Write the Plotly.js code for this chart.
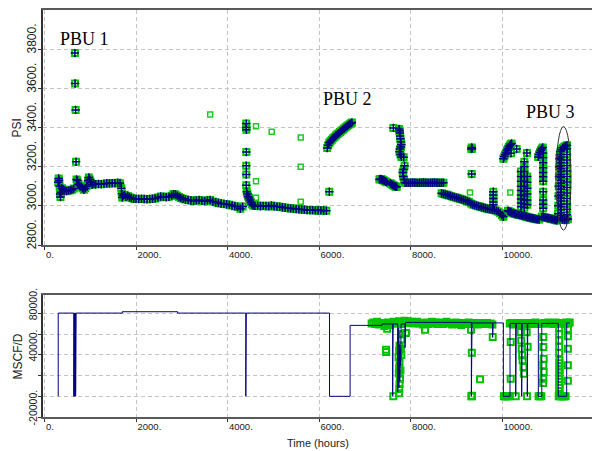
<!DOCTYPE html>
<html><head><meta charset="utf-8">
<script src="https://cdn.plot.ly/plotly-3.0.1.min.js"></script>
<style>html,body{margin:0;padding:0;background:#fff}#chart{width:592px;height:451px}</style>
</head><body><div id="chart"></div>
<script>
// ---- tick labels ----
const xTickVals = [0, 2000, 4000, 6000, 8000, 10000];
const xTickText = ['0.', '2000.', '4000.', '6000.', '8000.', '10000.'];
const psiTickVals = [2800, 3000, 3200, 3400, 3600, 3800];
const psiTickText = ['2800.', '3000.', '3200.', '3400.', '3600.', '3800.'];
const rateTickVals = [-20000, 0, 20000, 40000, 60000, 80000];
const rateTickText = ['-20000.', '', '', '40000.', '', '80000.'];

// ---- pressure (PSI) : measured squares with matched model crosses, [time h, psi] ----
const pressEarly = [[300,3120],[310,3140],[320,3130],[330,3100],[340,3060],[350,3045],[360,3070],[380,3090],[400,3085],[440,3078],[480,3075],[520,3078],[560,3080],[600,3082],[640,3088],
 [665,3780],[668,3625],[680,3490],[690,3225],
 [700,3135],[720,3130],[745,3110],[770,3102],[800,3098],[830,3090],[860,3082],[890,3090],[920,3100],[950,3128],[970,3145],[990,3135],[1010,3120],[1040,3108],[1080,3112],
 [1120,3110],[1180,3112],[1240,3110],[1300,3112],[1360,3115],[1420,3114],[1480,3116],[1540,3115],[1600,3118],[1650,3115],
 [1680,3090],[1690,3062],[1700,3042],[1720,3052],[1750,3056],[1780,3046],[1820,3050],[1860,3044],[1900,3040],[1950,3036],[2000,3035],[2060,3035],[2120,3036],[2180,3035],[2240,3034],[2300,3035],[2360,3036],[2420,3038],[2480,3042],[2540,3048],[2600,3046],[2660,3044],[2720,3046],[2780,3052],[2820,3060],[2860,3058],[2900,3052],[2940,3045],[2980,3040],[3030,3036],[3080,3032],[3140,3030],[3200,3027],[3260,3025],[3320,3028],[3380,3030],[3440,3026],[3500,3024],[3560,3028],[3620,3030],[3680,3022],[3740,3018],[3800,3015],[3860,3012],[3920,3010],[3980,3008],[4040,3005],[4100,3002],[4160,2998],[4220,2995],[4280,2985],[4330,2996]];
const pressMid = [[4410,3420],[4410,3400],[4412,3388],[4412,3275],[4410,3205],[4410,3160],[4410,3105],
 [4420,3072],[4435,3060],[4450,3048],[4470,3040],[4490,3030],[4510,3018],[4530,3008],[4560,3002],[4600,3000],[4660,3002],[4720,2998],[4780,3000],[4840,2999],[4900,2997],[4960,3002],[5020,2998],[5080,2996],[5140,2995],[5200,2993],[5260,2990],[5320,2989],[5380,2987],[5440,2986],[5500,2984],[5560,2982],[5620,2981],[5680,2980],[5740,2979],[5800,2978],[5860,2978],[5920,2977],[5980,2976],[6040,2977],[6100,2976],[6160,2975],[6225,3072]];
const pressPBU2 = [[6180,3295],[6200,3310],[6225,3322],[6250,3330],[6280,3338],[6310,3345],[6340,3352],[6370,3359],[6400,3365],[6430,3371],[6460,3377],[6490,3383],[6520,3389],[6550,3395],[6580,3401],[6610,3406],[6640,3412],[6670,3417],[6700,3422],[6720,3426]];
const pressAfterPBU2 = [[7320,3135],[7340,3137],[7360,3136],[7380,3134],[7400,3131],[7420,3129],[7440,3126],[7460,3123],[7480,3120],[7560,3115],[7580,3112],[7600,3108],[7620,3105],[7640,3102],[7660,3100],[7680,3098],[7700,3097],
 [7625,3398],[7750,3392],[7760,3382],[7770,3372],[7770,3357],[7780,3342],[7790,3327],[7800,3312],[7790,3300],[7770,3290],[7760,3276],[7780,3262],[7800,3250],[7850,3248],[7870,3205],[7850,3185],[7830,3170],[7840,3150],[7860,3135],
 [7880,3118],[7920,3118],[7960,3117],[8000,3118],[8040,3119],[8080,3118],[8120,3118],[8160,3117],[8200,3118],[8240,3118],[8280,3119],[8320,3118],[8360,3118],[8400,3117],[8440,3118],[8480,3118],[8520,3119],[8560,3118],[8600,3118],[8640,3117],[8680,3118],[8720,3118]];
const pressDecline = [[8680,3064],[8720,3061],[8760,3058],[8800,3056],[8840,3053],[8880,3050],[8920,3047],[8960,3044],[9000,3042],[9040,3039],[9080,3036],[9120,3033],[9160,3030],[9200,3027],[9240,3024],[9280,3020],[9320,3012],[9360,3007],[9400,3004],[9440,3001],[9480,2998],[9520,2996],[9560,2993],[9600,2990],[9640,2988],[9680,2985],[9720,2983],[9760,2982],[9800,2980],[9840,2978],[9880,2975],[9920,2970],[9960,2962],[10000,2952],[10030,2944],
 [9330,3290],[9338,3298],[9345,3292],[9337,3162],
 [9810,3072],[9810,3055],[9810,3038],[9810,3020],[9810,3005]];
const pressLate = [[10030,3240],[10050,3252],[10070,3262],[10090,3272],[10110,3282],[10130,3292],[10150,3300],[10170,3308],[10190,3314],[10210,3318],
 [10197,3268],[10320,3290],[10545,3270],
 [10130,2975],[10150,2972],[10170,2970],[10190,2967],[10210,2965],[10240,2962],[10270,2960],[10300,2958],[10330,2956],[10360,2955],[10390,2953],[10420,2952],[10450,2950],[10480,2948],[10510,2946],[10540,2944],[10570,2942],[10600,2940],[10630,2938],[10660,2937],[10690,2935],[10720,2934],[10750,2932],[10780,2931],[10810,2930],
 [10870,2945],[10900,2943],[10930,2942],[10960,2940],[10990,2938],[11020,2937],[11050,2935],[11080,2933],[11110,2932],[11140,2930],[11170,2928],[11200,2925],
 [10415,3175],[10415,3150],[10415,3125],[10415,3100],[10415,3078],[10415,3055],[10415,3035],[10415,3015],[10415,2995],
 [10488,3225],[10488,3200],[10488,3175],[10488,3150],[10488,3125],[10488,3100],[10488,3075],[10488,3050],[10488,3030],[10488,3010],[10488,2990],
 [10553,3150],[10553,3120],[10553,3090],[10553,3060],[10553,3030],[10553,3005],
 [10790,3250],[10810,3262],[10830,3274],[10850,3284],[10870,3292],[10890,3298],
 [10900,3270],[10900,3245],[10900,3220],[10900,3195],[10900,3170],[10900,3148],[10900,3125],[10900,3072],[10900,3030],[10900,3008],[10900,2988]];
const pressPBU3 = [[11215,2935],[11225,2960],[11230,3000],[11235,3050],[11240,3100],[11245,3150],[11250,3200],[11255,3240],[11265,3262],[11280,3278],[11300,3288],[11330,3296],[11360,3302],[11390,3306],[11420,3310],
 [11290,3250],[11290,3235],[11290,3220],[11290,3205],[11290,3190],[11290,3175],[11290,3160],[11290,3145],[11290,3130],[11290,3115],[11290,3100],[11290,3085],[11290,3070],[11290,3055],[11290,3040],[11290,3025],[11290,3010],[11290,2995],[11290,2980],[11290,2965],[11290,2950],[11290,2938],
 [11420,3290],[11420,3262],[11420,3234],[11420,3206],[11420,3178],[11420,3150],[11420,3122],[11420,3094],[11420,3066],[11420,3038],[11420,3010],[11420,2982],[11420,2955],[11420,2935],
 [11320,2930],[11360,2928],[11400,2928],[11440,2932]];
// measured-only pressure points (squares without crosses)
const pressOutliers = [[3622,3467],[4623,3407],[4966,3378],[5600,3349],[5600,3199],[4623,3126],[4623,3041],[5600,3021],[9300,3068],[10180,3068]];

// ---- gas rate (MSCF/D) ----
const rateHistory = [[300,0],[300,80500],[640,80500],[640,0],[650,0],[650,80500],[660,80500],[660,0],[670,0],[670,80500],[680,80500],[680,0],[690,0],[690,80500],
 [1700,80500],[1700,81800],[2910,81800],[2910,80500],[4400,80500],[4400,0],[4410,0],[4410,80500],[6230,80500],[6230,0],[6680,0],[6680,68600],
 [7380,68600],[7380,70000],[7610,70000],[7610,0],[7620,0],[7620,70000],[7720,70000],[7720,4000],[7730,4000],[7730,66000],[7745,66000],[7745,8000],[7755,8000],[7755,50000],[7765,50000],[7765,15000],[7775,15000],[7775,45000],[7785,45000],[7785,30000],[7795,30000],[7795,70000],
 [7880,70000],[7880,47000],[7890,47000],[7890,71500],[9330,71500],[9330,0],[9345,0],[9345,71000],[9795,71000],[9795,57000],[9805,57000],[9805,71000],
 [10030,71000],[10030,0],[10175,0],[10175,70500],[10300,70500],[10300,0],[10310,0],[10310,70500],[10430,70500],[10430,0],[10440,0],[10440,70500],[10553,70500],[10553,0],[10563,0],[10563,70500],
 [10794,70500],[10794,0],[10870,0],[10870,70500],[11230,70500],[11230,0],[11414,0],[11414,71000],[11480,71000]];
const rateMeasured = [[7150,70500],[7190,71500],[7230,70000],[7270,72000],[7310,69500],[7350,71000],[7390,70500],[7430,68000],[7470,70000],[7510,71500],[7550,69000],[7590,70500],[7630,72000],[7670,70500],[7710,71000],[7750,72500],[7790,70000],[7830,71500],[7870,73000],[7910,71000],[7950,72500],[7990,71000],[8030,72000],[8070,70500],[8110,71500],[8150,72000],[8190,70500],[8230,71000],[8270,69500],[8310,70500],[8350,71500],[8390,70000],[8430,71000],[8470,72000],[8510,70500],[8550,71500],[8590,70000],[8630,70500],[8670,71500],[8710,70000],[8750,71000],[8790,72000],[8830,70500],[8870,71000],[8910,69500],[8950,70500],[8990,71500],[9030,70000],[9070,71000],[9110,69000],[9150,70500],[9190,71000],[9230,70000],[9270,71500],[9310,70500],[9350,70000],[9390,71000],[9430,70500],[9470,69500],[9510,70500],[9550,71000],[9590,70000],[9630,70500],[9670,71000],[9710,70000],[9750,70500],[9790,69500],
 [10170,70500],[10210,71000],[10250,69500],[10290,70500],[10330,71000],[10370,70000],[10410,69000],[10450,70500],[10490,71000],[10530,70000],[10570,70500],[10610,71000],[10650,70000],[10690,70500],[10730,71500],[10770,70000],[10890,70500],[10930,71000],[10970,70500],[11010,71500],[11050,70500],[11090,71000],[11130,70000],[11170,71500],[11210,70500],[11250,71000],[11290,70500],[11330,71000],[11370,70000],[11410,71500],[11450,70500],[11480,71500],
 [7625,0],[9330,0],[9340,0],[9345,500],[10040,0],[10070,0],[10100,0],[10130,0],[10160,0],[10300,0],[10545,0],[10800,0],[10830,0],[10860,0],[11240,0],[11270,0],[11300,0],[11330,0],[11360,0],[11390,0],
 [11250,66000],[11250,60000],[11250,54000],[11250,48000],[11250,42000],[11255,35000],[11255,32000],[11255,29000],[11255,26000],[11255,23000],[11255,20000],[11255,17000],[11255,14000],[11255,11000],[11255,8000],[11255,5000],[11255,2000],
 [11440,65000],[11440,58000],[11440,46000],[11440,30000],[11440,15000],
 [7465,45000],[7468,42800],[7490,65400],[7900,61200],[8317,64400],[9323,64400],[9340,42200],[9520,16400],[9797,57300],[10190,52500],[10190,17100],
 [10408,62100],[10420,54100],[10430,46100],[10440,39600],[10450,34800],[10470,28300],[10480,21900],[10540,62000],[10560,48000],
 [10903,57300],[10903,47600],[10910,36400],[10903,30000],[10910,23500],[10903,17100],[10900,12900],
 [7760,49000],[7750,44000],[7740,38000],[7760,33000],[7750,27000],[7745,22000],[7770,17000],[7760,12000],[7755,7000],[7750,3000],[7790,46000],[7800,40000],[7780,25000],[7800,55000],[7820,60000]];

// ---- annotations text ----
const pbuLabels = ['PBU 1', 'PBU 2', 'PBU 3'];
const pbuLabelPos = [[874, 3851], [6612, 3545], [11060, 3479]];

const matched = [].concat(pressEarly, pressMid, pressPBU2, pressAfterPBU2, pressDecline, pressLate, pressPBU3);
const col = (arr, i) => arr.map(p => p[i]);

const GREEN = '#00c400', NAVY = '#000080';
const sq = {symbol: 'square-open', size: 6, color: GREEN, line: {width: 2, color: GREEN}};
const sqLight = {symbol: 'square-open', size: 5, color: '#22c822', line: {width: 1.5, color: '#22c822'}};
const cross = {symbol: 'cross-thin', size: 6, color: NAVY, line: {width: 1.5, color: NAVY}};

const traces = [
  {x: col(matched,0), y: col(matched,1), xaxis: 'x', yaxis: 'y', type: 'scatter', mode: 'markers', marker: sq},
  {x: col(pressOutliers,0), y: col(pressOutliers,1), xaxis: 'x', yaxis: 'y', type: 'scatter', mode: 'markers', marker: sqLight},
  {x: col(matched,0), y: col(matched,1), xaxis: 'x', yaxis: 'y', type: 'scatter', mode: 'markers', marker: cross},
  {x: col(rateMeasured,0), y: col(rateMeasured,1), xaxis: 'x2', yaxis: 'y2', type: 'scatter', mode: 'markers', marker: sq},
  {x: col(rateHistory,0), y: col(rateHistory,1), xaxis: 'x2', yaxis: 'y2', type: 'scatter', mode: 'lines', line: {color: NAVY, width: 1}}
];

const SANS = 'Liberation Sans, Arial, sans-serif';
const xTickFont = {family: SANS, size: 9.5, color: '#222'};
const gridStyle = {showgrid: true, gridcolor: '#c4c4c4', gridwidth: 1, griddash: '4px,3px', zeroline: false};
const xCommon = Object.assign({range: [-33, 11967], tickmode: 'array', tickvals: xTickVals, ticktext: xTickText,
  ticklabelposition: 'outside right', tickfont: xTickFont, showline: true, linecolor: '#5a5a5a', linewidth: 2, mirror: true,
  ticks: 'outside', ticklen: 3, tickcolor: '#333'}, gridStyle);
const yCommon = Object.assign({tickmode: 'array', tickangle: -90, ticklabelposition: 'outside top',
  showline: true, linecolor: '#333', linewidth: 2, ticks: 'outside', ticklen: 3, tickcolor: '#333'}, gridStyle);

const layout = {
  width: 592, height: 451, showlegend: false,
  paper_bgcolor: '#fff', plot_bgcolor: '#fff',
  margin: {l: 43, r: 0, t: 10, b: 34},
  xaxis: Object.assign({}, xCommon, {domain: [0, 1], anchor: 'y'}),
  xaxis2: Object.assign({}, xCommon, {domain: [0, 1], anchor: 'y2'}),
  yaxis: Object.assign({}, yCommon, {domain: [0.4226, 1], range: [2800, 4000], tickvals: psiTickVals, ticktext: psiTickText,
    tickfont: {family: SANS, size: 12, color: '#222'}}),
  yaxis2: Object.assign({}, yCommon, {domain: [0, 0.2998], range: [-20000, 98000], tickvals: rateTickVals, ticktext: rateTickText,
    tickfont: {family: SANS, size: 10.5, color: '#222'}}),
  shapes: [{type: 'circle', xref: 'x', yref: 'y', x0: 11180, x1: 11508, y0: 2876, y1: 3405, line: {color: '#333', width: 1}}],
  annotations: pbuLabels.map((t, i) => ({text: t, x: pbuLabelPos[i][0], y: pbuLabelPos[i][1], xref: 'x', yref: 'y', showarrow: false,
    xanchor: 'center', yanchor: 'middle',
    font: {family: 'Liberation Serif, Times New Roman, serif', size: 18, color: '#000'}})).concat([
    {text: 'PSI', xref: 'paper', yref: 'paper', x: -0.0464, y: 0.710, xanchor: 'center', yanchor: 'middle', showarrow: false, textangle: -90, font: {family: SANS, size: 12, color: '#222'}},
    {text: 'MSCF/D', xref: 'paper', yref: 'paper', x: -0.0464, y: 0.1474, xanchor: 'center', yanchor: 'middle', showarrow: false, textangle: -90, font: {family: SANS, size: 12, color: '#222'}},
    {text: 'Time (hours)', xref: 'paper', yref: 'paper', x: 0.501, y: -0.0639, xanchor: 'center', yanchor: 'middle', showarrow: false, font: {family: SANS, size: 11, color: '#222'}}
  ])
};

Plotly.newPlot('chart', traces, layout, {staticPlot: true, displayModeBar: false});
</script></body></html>
